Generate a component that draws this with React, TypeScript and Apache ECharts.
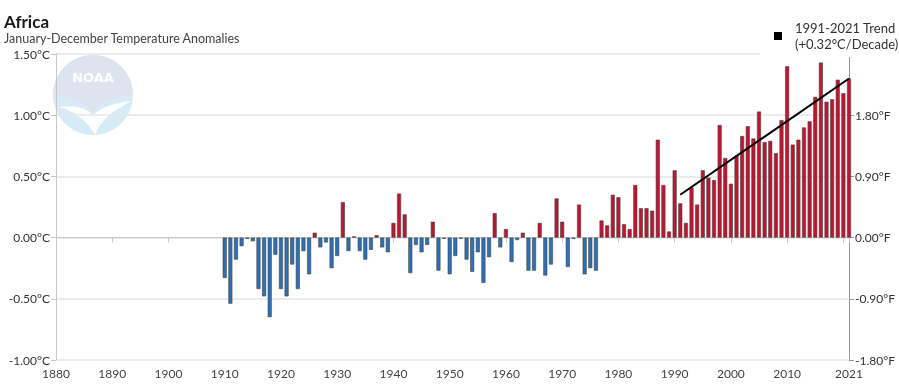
import React, { useEffect, useRef } from "react";
import * as echarts from "echarts";

const startYear = 1910;
const anomalies: number[] = [
  // 1910-1919
  -0.33, -0.54, -0.18, -0.07, -0.01, -0.03, -0.42, -0.48, -0.65, -0.14,
  // 1920-1929
  -0.42, -0.48, -0.22, -0.42, -0.11, -0.30, 0.04, -0.08, -0.04, -0.25,
  // 1930-1939
  -0.15, 0.29, -0.11, 0.01, -0.11, -0.18, -0.10, 0.02, -0.08, -0.12,
  // 1940-1949
  0.12, 0.36, 0.19, -0.29, -0.06, -0.12, -0.06, 0.13, -0.27, -0.01,
  // 1950-1959
  -0.30, -0.15, -0.01, -0.18, -0.28, -0.12, -0.37, -0.16, 0.20, -0.08,
  // 1960-1969
  0.07, -0.20, -0.02, 0.04, -0.27, -0.27, 0.12, -0.31, -0.22, 0.32,
  // 1970-1979
  0.13, -0.24, -0.01, 0.27, -0.30, -0.25, -0.27, 0.14, 0.10, 0.35,
  // 1980-1989
  0.33, 0.11, 0.07, 0.43, 0.24, 0.24, 0.22, 0.80, 0.43, 0.05,
  // 1990-1999
  0.55, 0.28, 0.12, 0.41, 0.27, 0.55, 0.49, 0.47, 0.92, 0.65,
  // 2000-2009
  0.44, 0.67, 0.83, 0.91, 0.81, 1.03, 0.78, 0.79, 0.69, 0.96,
  // 2010-2019
  1.40, 0.76, 0.80, 0.90, 0.95, 1.15, 1.43, 1.11, 1.13, 1.29,
  // 2020-2021
  1.18, 1.30,
];
const trendYears = [1991, 2021];
const trendValues = [0.35, 1.3];

const titleText = "Africa";
const subtitleText = "January-December Temperature Anomalies";
const legendLine1 = "1991-2021 Trend";
const legendLine2 = "(+0.32°C/Decade)";

const RED = "#c0142f";
const BLUE = "#2c70b6";
const FONT = "Lato, 'Open Sans', sans-serif";

let shapesRegistered = false;
function registerShapes() {
  if (shapesRegistered) return;
  shapesRegistered = true;
  echarts.graphic.registerShape(
    "noaaTop",
    echarts.graphic.extendPath(
      "M 0 40 A 40 40 0 0 1 80 40 C 62 42 50 46 40 58 C 30 46 18 42 0 40 Z",
      {}
    )
  );
  echarts.graphic.registerShape(
    "noaaGull",
    echarts.graphic.extendPath(
      "M 6 52 C 20 50 32 52 40 60 C 48 52 62 48 78 46 C 60 56 48 64 42 80 C 34 66 22 56 6 52 Z",
      {}
    )
  );
}

export default function App() {
  const ref = useRef<HTMLDivElement>(null);

  useEffect(() => {
    if (!ref.current) return;
    registerShapes();
    const chart = echarts.init(ref.current, undefined, { renderer: "svg" });

    const barData = anomalies.map((v, i) => [startYear + i, v]);
    const trendData = trendYears.map((y, i) => [y, trendValues[i]]);

    chart.setOption({
      animation: false,
      textStyle: { fontFamily: FONT },
      grid: { left: 56, right: 50, top: 54, bottom: 28, containLabel: false },
      xAxis: {
        type: "value",
        min: 1880,
        max: 2021,
        interval: 10,
        axisLine: { show: true, lineStyle: { color: "#c8c8c8", width: 1 } },
        axisTick: { show: true, length: 5, lineStyle: { color: "#c8c8c8" } },
        axisLabel: {
          color: "#444",
          fontSize: 12,
          margin: 7,
          fontFamily: FONT,
          formatter: (v: number) => (v === 2020 ? "" : String(v)),
        },
        splitLine: { show: false },
      },
      yAxis: [
        {
          type: "value",
          min: -1,
          max: 1.5,
          interval: 0.5,
          axisLine: { show: true, lineStyle: { color: "#c8c8c8", width: 1 } },
          axisTick: { show: true, length: 5, lineStyle: { color: "#c8c8c8" } },
          axisLabel: {
            color: "#333",
            fontSize: 12,
            margin: 6,
            fontFamily: FONT,
            formatter: (v: number) => v.toFixed(2) + "°C",
          },
          splitLine: { show: true, lineStyle: { color: "#e6e6e6", width: 1.5 } },
        },
        {
          type: "value",
          position: "right",
          min: -1.8,
          max: 2.7,
          interval: 0.9,
          axisLine: { show: true, lineStyle: { color: "#999", width: 1 } },
          axisTick: { show: true, length: 5, lineStyle: { color: "#999" } },
          axisLabel: {
            color: "#333",
            fontSize: 12,
            margin: 6,
            fontFamily: FONT,
            formatter: (v: number) =>
              Math.abs(v - 2.7) < 1e-6 ? "" : v.toFixed(2) + "°F",
          },
          splitLine: { show: false },
        },
      ],
      series: [
        {
          type: "bar",
          data: barData,
          barWidth: 4,
          clip: false,
          itemStyle: {
            color: (p: any) => (p.value[1] >= 0 ? RED : BLUE),
            borderColor: "#444",
            borderWidth: 0.6,
          },
          z: 2,
        },
        {
          type: "line",
          data: trendData,
          symbol: "none",
          clip: false,
          lineStyle: { color: "#000", width: 2 },
          z: 5,
        },
      ],
      graphic: [
        {
          type: "group",
          x: 53,
          y: 55,
          z: -5,
          children: [
            {
              type: "circle",
              shape: { cx: 40, cy: 40, r: 40 },
              style: { fill: "#d7ebf7" },
            },
            { type: "noaaTop", style: { fill: "#dde4ee" } },
            { type: "noaaGull", style: { fill: "#ffffff" } },
            {
              type: "text",
              x: 40,
              y: 22,
              style: {
                text: "NOAA",
                fill: "#ffffff",
                font: "bold 13px 'DejaVu Sans', sans-serif",
                align: "center",
                verticalAlign: "middle",
              },
            },
          ],
        },
        {
          type: "text",
          x: 4,
          y: 21,
          style: {
            text: titleText,
            fill: "#1a1a1a",
            font: "bold 17px " + FONT,
            verticalAlign: "middle",
          },
        },
        {
          type: "text",
          x: 4,
          y: 38.5,
          style: {
            text: subtitleText,
            fill: "#444",
            font: "12.5px " + FONT,
            verticalAlign: "middle",
          },
        },
        {
          type: "rect",
          z: 50,
          shape: { x: 760, y: 10, width: 139, height: 47 },
          style: { fill: "#ffffff" },
        },
        {
          type: "rect",
          z: 51,
          shape: { x: 774, y: 32, width: 8, height: 8 },
          style: { fill: "#000" },
        },
        {
          type: "text",
          z: 51,
          x: 795,
          y: 28,
          style: {
            text: legendLine1,
            fill: "#333",
            font: "13px " + FONT,
            verticalAlign: "middle",
          },
        },
        {
          type: "text",
          z: 51,
          x: 795,
          y: 44,
          style: {
            text: legendLine2,
            fill: "#333",
            font: "13px " + FONT,
            verticalAlign: "middle",
          },
        },
      ],
    });

    return () => chart.dispose();
  }, []);

  return (
    <div
      ref={ref}
      style={{ position: "fixed", left: 0, top: 0, width: 899, height: 388 }}
    />
  );
}
